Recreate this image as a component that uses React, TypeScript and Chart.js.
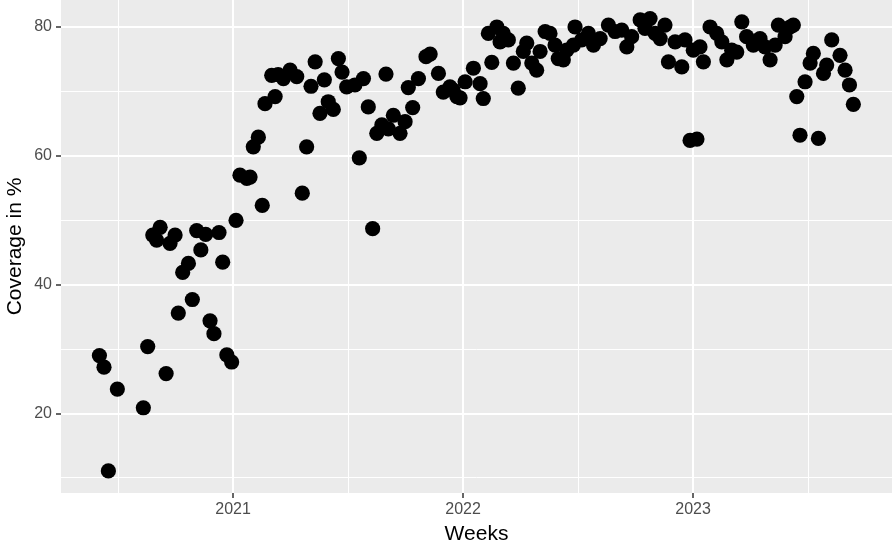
import { useEffect, useRef } from "react";
import { Chart, registerables } from "chart.js";

Chart.register(...registerables);

// Week positions in fractional years
const weeks = [
  2020.419, 2020.439, 2020.458, 2020.497, 2020.61, 2020.629, 2020.651, 2020.668, 2020.683, 2020.709,
  2020.726, 2020.748, 2020.762, 2020.781, 2020.806, 2020.823, 2020.842, 2020.86, 2020.881, 2020.9,
  2020.917, 2020.939, 2020.955, 2020.973, 2020.994, 2021.013, 2021.03, 2021.06, 2021.074, 2021.088,
  2021.11, 2021.127, 2021.139, 2021.168, 2021.183, 2021.196, 2021.219, 2021.248, 2021.277, 2021.301,
  2021.32, 2021.339, 2021.357, 2021.378, 2021.397, 2021.414, 2021.436, 2021.458, 2021.474, 2021.494,
  2021.53, 2021.549, 2021.567, 2021.588, 2021.607, 2021.625, 2021.647, 2021.665, 2021.675, 2021.697,
  2021.726, 2021.748, 2021.762, 2021.781, 2021.806, 2021.839, 2021.857, 2021.893, 2021.914, 2021.943,
  2021.957, 2021.973, 2021.987, 2022.009, 2022.045, 2022.074, 2022.088, 2022.11, 2022.125, 2022.147,
  2022.161, 2022.175, 2022.197, 2022.219, 2022.24, 2022.262, 2022.277, 2022.299, 2022.32, 2022.335,
  2022.357, 2022.378, 2022.4, 2022.414, 2022.436, 2022.451, 2022.48, 2022.487, 2022.516, 2022.545,
  2022.567, 2022.596, 2022.632, 2022.661, 2022.69, 2022.712, 2022.733, 2022.77, 2022.791, 2022.813,
  2022.835, 2022.857, 2022.878, 2022.893, 2022.922, 2022.951, 2022.965, 2022.987, 2023.001, 2023.017,
  2023.03, 2023.045, 2023.074, 2023.103, 2023.125, 2023.147, 2023.168, 2023.19, 2023.212, 2023.233,
  2023.262, 2023.291, 2023.313, 2023.335, 2023.357, 2023.371, 2023.4, 2023.422, 2023.436, 2023.451,
  2023.465, 2023.487, 2023.509, 2023.523, 2023.545, 2023.567, 2023.581, 2023.603, 2023.639, 2023.661,
  2023.68, 2023.697,
];

// Coverage in %
const coverage = [
  29.0, 27.2, 11.1, 23.8, 20.9, 30.4, 47.7, 46.9, 48.9, 26.2,
  46.4, 47.7, 35.6, 41.9, 43.3, 37.7, 48.4, 45.4, 47.8, 34.4,
  32.4, 48.1, 43.5, 29.1, 28.0, 50.0, 57.0, 56.5, 56.7, 61.4,
  62.9, 52.3, 68.1, 72.5, 69.2, 72.6, 72.0, 73.3, 72.3, 54.2,
  61.4, 70.8, 74.6, 66.6, 71.8, 68.4, 67.2, 75.1, 73.0, 70.7,
  71.0, 59.7, 72.0, 67.6, 48.7, 63.5, 64.8, 72.7, 64.2, 66.3,
  63.5, 65.3, 70.6, 67.5, 72.0, 75.4, 75.8, 72.8, 69.9, 70.7,
  70.2, 69.2, 69.0, 71.5, 73.6, 71.2, 68.9, 79.0, 74.5, 80.0,
  77.7, 79.0, 78.0, 74.4, 70.5, 76.2, 77.5, 74.4, 73.3, 76.2,
  79.3, 79.0, 77.2, 75.1, 74.9, 76.4, 77.2, 80.0, 78.0, 79.0,
  77.2, 78.2, 80.3, 79.3, 79.5, 76.9, 78.5, 81.1, 79.8, 81.3,
  79.0, 78.2, 80.3, 74.6, 77.7, 73.8, 78.0, 62.4, 76.4, 62.6,
  76.9, 74.6, 80.0, 79.0, 77.7, 74.9, 76.4, 76.1, 80.8, 78.5,
  77.2, 78.2, 76.9, 74.9, 77.2, 80.3, 78.5, 80.0, 80.3, 69.2,
  63.2, 71.5, 74.4, 75.9, 62.7, 72.8, 74.1, 78.0, 75.6, 73.3,
  71.0, 68.0,
];

const xGridValues = [2020.5, 2021, 2021.5, 2022, 2022.5, 2023, 2023.5];
const xTickLabels = [2021, 2022, 2023];
const yGridValues = [10, 20, 30, 40, 50, 60, 70, 80];
const yTickLabels = [20, 40, 60, 80];

const FONT = '"Liberation Sans", Arial, sans-serif';

const panelBackground = {
  id: "panelBackground",
  beforeDraw(chart: any) {
    const { ctx, chartArea: a } = chart;
    ctx.save();
    ctx.fillStyle = "#EBEBEB";
    ctx.fillRect(a.left, a.top, a.right - a.left, a.bottom - a.top);
    ctx.restore();
  },
};

export default function App() {
  const ref = useRef<HTMLCanvasElement | null>(null);

  useEffect(() => {
    if (!ref.current) return;
    const points = weeks.map((w, i) => ({ x: w, y: coverage[i] }));
    const isMajorX = (v: number) => xTickLabels.includes(v);
    const isMajorY = (v: number) => yTickLabels.includes(v);

    const chart = new Chart(ref.current, {
      type: "scatter",
      data: {
        datasets: [
          {
            data: points,
            pointRadius: 7.6,
            pointHoverRadius: 7.6,
            pointBackgroundColor: "#000000",
            pointBorderWidth: 0,
            pointBorderColor: "#000000",
          },
        ],
      },
      options: {
        animation: false,
        responsive: false,
        events: [],
        layout: { padding: 0, autoPadding: false },
        plugins: {
          legend: { display: false },
          tooltip: { enabled: false },
        },
        scales: {
          x: {
            type: "linear",
            min: 2020.252,
            max: 2023.865,
            afterBuildTicks: (scale: any) => {
              scale.ticks = xGridValues.map((v) => ({ value: v }));
            },
            afterFit: (scale: any) => {
              scale.height = 52;
              scale.paddingLeft = 0;
              scale.paddingRight = 0;
            },
            border: { display: false },
            grid: {
              color: "#FFFFFF",
              lineWidth: (c: any) => (c.tick && isMajorX(c.tick.value) ? 2 : 1),
              tickColor: (c: any) =>
                c.tick && isMajorX(c.tick.value) ? "#333333" : "rgba(0,0,0,0)",
              tickWidth: 1.5,
              tickLength: 5,
              drawTicks: true,
            },
            ticks: {
              autoSkip: false,
              maxRotation: 0,
              minRotation: 0,
              padding: 2,
              color: "#4D4D4D",
              font: { family: FONT, size: 16 },
              callback: (v: any) => (isMajorX(Number(v)) ? String(v) : ""),
            },
            title: {
              display: true,
              text: "Weeks",
              color: "#000000",
              font: { family: FONT, size: 21, lineHeight: 1 },
              padding: { top: 0, bottom: 0 },
            },
          },
          y: {
            type: "linear",
            min: 7.67,
            max: 84.19,
            afterBuildTicks: (scale: any) => {
              scale.ticks = yGridValues.map((v) => ({ value: v }));
            },
            afterFit: (scale: any) => {
              scale.width = 61;
              scale.paddingTop = 0;
              scale.paddingBottom = 0;
            },
            border: { display: false },
            grid: {
              color: "#FFFFFF",
              lineWidth: (c: any) => (c.tick && isMajorY(c.tick.value) ? 2 : 1),
              tickColor: (c: any) =>
                c.tick && isMajorY(c.tick.value) ? "#333333" : "rgba(0,0,0,0)",
              tickWidth: 1.5,
              tickLength: 5,
              drawTicks: true,
            },
            ticks: {
              autoSkip: false,
              padding: 4,
              color: "#4D4D4D",
              font: { family: FONT, size: 16 },
              callback: (v: any) => (isMajorY(Number(v)) ? String(v) : ""),
            },
            title: {
              display: true,
              text: "Coverage in %",
              color: "#000000",
              font: { family: FONT, size: 21, lineHeight: 1 },
              padding: { top: 5, bottom: 0 },
            },
          },
        },
      },
      plugins: [panelBackground],
    } as any);

    return () => chart.destroy();
  }, []);

  return (
    <div
      style={{
        position: "fixed",
        left: 0,
        top: 0,
        width: 892,
        height: 545,
        background: "#FFFFFF",
      }}
    >
      <canvas ref={ref} width={892} height={545} style={{ display: "block" }} />
    </div>
  );
}
